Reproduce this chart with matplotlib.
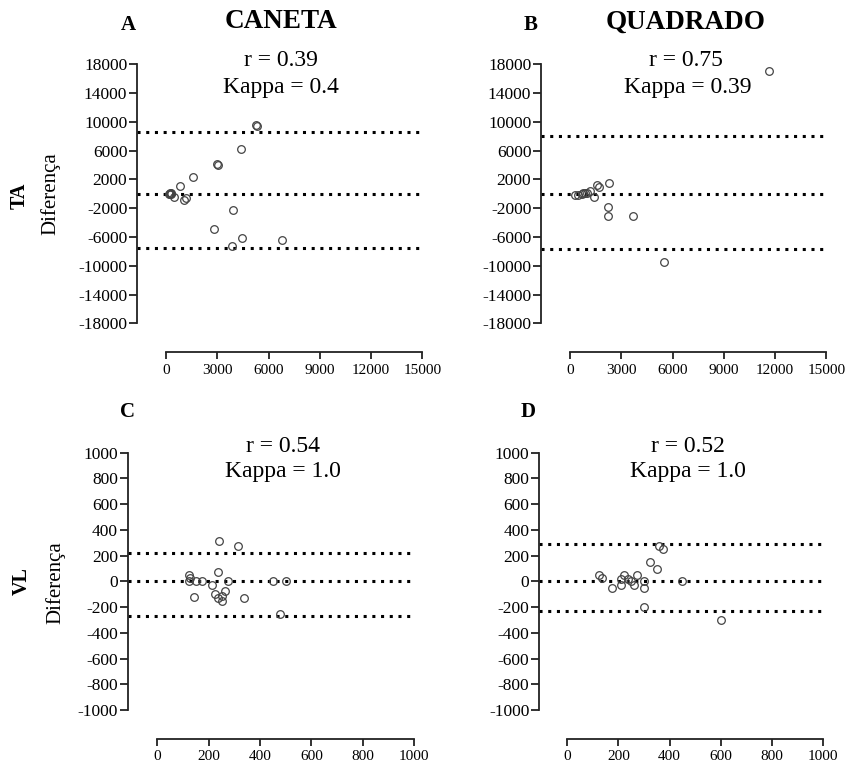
import matplotlib
matplotlib.use('Agg')
import matplotlib.pyplot as plt

plt.rcParams['font.family'] = ['Liberation Serif', 'DejaVu Serif']
plt.rcParams['axes.unicode_minus'] = False

W, H = 853, 769

# Bland-Altman data
caneta_ta_x = [5250, 5320, 4390, 2970, 3030, 1560, 820, 180, 220, 260, 300, 240,
               470, 1020, 1170, 3900, 2830, 4450, 3850, 6800]
caneta_ta_y = [9500, 9400, 6190, 4100, 4000, 2290, 1090, 0, -80, 100, 0, 50,
               -390, -900, -620, -2250, -4850, -6100, -7250, -6470]
caneta_ta_lines = [8600, 0, -7600]

quadrado_ta_x = [11660, 2300, 1560, 1700, 1420, 1170, 980, 290, 490, 680, 780, 880,
                 2190, 2190, 3710, 5470]
quadrado_ta_y = [17010, 1490, 1250, 930, -510, 320, 180, -140, -140, -40, 70, 170,
                 -1770, -3060, -3060, -9460]
quadrado_ta_lines = [8000, 0, -7700]

caneta_vl_x = [240, 313, 237, 125, 127, 125, 149, 175, 212, 274, 450, 500,
               142, 225, 237, 251, 263, 251, 339, 476]
caneta_vl_y = [315, 272, 72, 49, 23, 0, 0, 0, -29, 0, 0, 0,
               -120, -101, -127, -114, -75, -153, -127, -254]
caneta_vl_lines = [222, 0, -267]

quadrado_vl_x = [360, 375, 325, 349, 125, 136, 223, 210, 236, 248, 274, 301,
                 174, 210, 260, 300, 449, 300, 600]
quadrado_vl_y = [274, 249, 150, 98, 51, 23, 51, 20, 20, 0, 51, 0,
                 -49, -29, -29, -49, 0, -200, -301]
quadrado_vl_lines = [292, 0, -233]

ta_yticks = list(range(18000, -18001, -4000))
ta_xticks = [0, 3000, 6000, 9000, 12000, 15000]
vl_yticks = list(range(1000, -1001, -200))
vl_xticks = [0, 200, 400, 600, 800, 1000]


def box(left, top, right, bottom):
    return [left / W, 1 - bottom / H, (right - left) / W, (bottom - top) / H]


def ftext(x, y, s, **kw):
    fig.text(x / W, 1 - y / H, s, ha='center', va='center', **kw)


def panel(rect, xs, ys, lines, xlim, ylim, xticks, yticks):
    ax = fig.add_axes(rect)
    for v in lines:
        ax.axhline(v, color='black', lw=2.2, linestyle=(0, (1, 1.85)), zorder=1)
    ax.plot(xs, ys, 'o', mfc='none', mec='#444444', ms=5.5, mew=0.9,
            clip_on=False, zorder=2)
    ax.set_xlim(*xlim)
    ax.set_ylim(*ylim)
    ax.set_xticks(xticks)
    ax.set_yticks(yticks)
    ax.spines['top'].set_visible(False)
    ax.spines['right'].set_visible(False)
    ax.spines['bottom'].set_position(('outward', 21))
    ax.spines['bottom'].set_bounds(xticks[0], xticks[-1])
    for s in ['left', 'bottom']:
        ax.spines[s].set_linewidth(1.3)
        ax.spines[s].set_color('#222222')
    ax.tick_params(axis='y', length=6, width=1.3, pad=1, labelsize=12.5,
                   color='#222222')
    ax.tick_params(axis='x', length=5, width=1.3, pad=3, labelsize=11,
                   color='#222222')
    return ax


fig = plt.figure(figsize=(W / 100, H / 100), dpi=100)

panel(box(137, 64.3, 422.5, 323.3), caneta_ta_x, caneta_ta_y, caneta_ta_lines,
      (-1700, 15000), (-18000, 18000), ta_xticks, ta_yticks)
panel(box(541, 64.3, 826.5, 323.3), quadrado_ta_x, quadrado_ta_y, quadrado_ta_lines,
      (-1700, 15000), (-18000, 18000), ta_xticks, ta_yticks)
panel(box(127.7, 452.7, 414.3, 710), caneta_vl_x, caneta_vl_y, caneta_vl_lines,
      (-115, 1000), (-1000, 1000), vl_xticks, vl_yticks)
panel(box(539, 452.7, 823.3, 710), quadrado_vl_x, quadrado_vl_y, quadrado_vl_lines,
      (-110, 1000), (-1000, 1000), vl_xticks, vl_yticks)

# panel letters and titles
ftext(128, 25, 'A', fontsize=15, fontweight='bold')
ftext(531, 25, 'B', fontsize=15, fontweight='bold')
ftext(128, 412, 'C', fontsize=15, fontweight='bold')
ftext(528, 412, 'D', fontsize=15, fontweight='bold')
ftext(281, 22, 'CANETA', fontsize=19.5, fontweight='bold')
ftext(686, 22, 'QUADRADO', fontsize=19.5, fontweight='bold')

ftext(281, 61, 'r = 0.39', fontsize=17)
ftext(281, 87, 'Kappa = 0.4', fontsize=17)
ftext(686, 61, 'r = 0.75', fontsize=17)
ftext(688, 87, 'Kappa = 0.39', fontsize=17)
ftext(283, 446, 'r = 0.54', fontsize=17)
ftext(283, 472, 'Kappa = 1.0', fontsize=17)
ftext(688, 446, 'r = 0.52', fontsize=17)
ftext(688, 472, 'Kappa = 1.0', fontsize=17)

# row labels
ftext(20, 196, 'TA', fontsize=14.5, fontweight='bold', rotation=90)
ftext(50, 194, 'Diferença', fontsize=15, rotation=90)
ftext(22, 581, 'VL', fontsize=14.5, fontweight='bold', rotation=90)
ftext(55, 583, 'Diferença', fontsize=15, rotation=90)

fig.savefig('out.png', dpi=100)
